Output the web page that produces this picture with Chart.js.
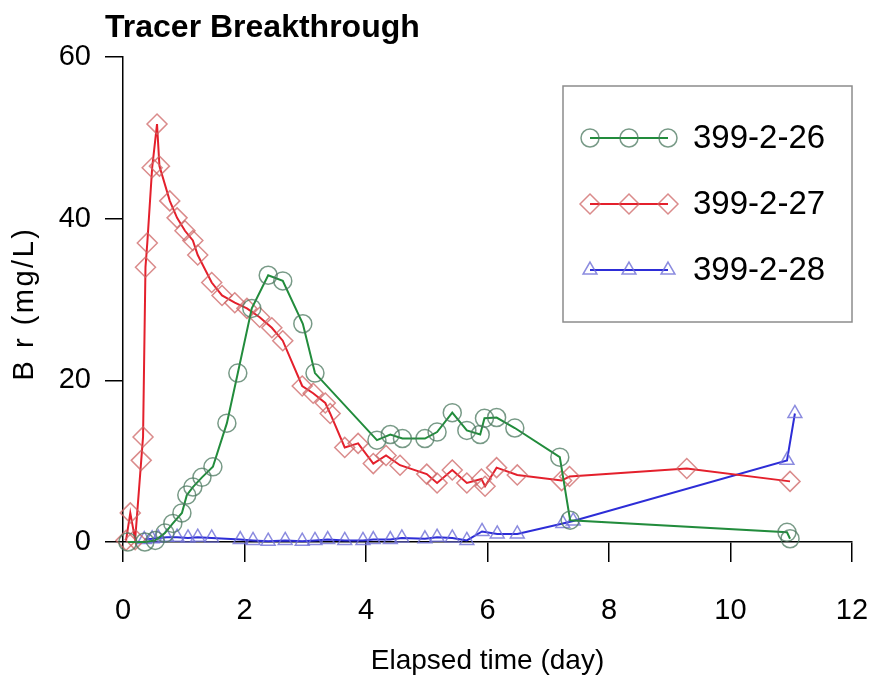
<!DOCTYPE html>
<html>
<head>
<meta charset="utf-8">
<script src="https://cdn.jsdelivr.net/npm/chart.js@4.4.1/dist/chart.umd.min.js"></script>
<style>
  html, body { margin: 0; padding: 0; background: #ffffff; }
  #wrap { position: relative; width: 885px; height: 684px; }
</style>
</head>
<body>
<div id="wrap"><canvas id="c" width="885" height="684"></canvas></div>
<script>
// ---- data ----
const seriesNames = ['399-2-26', '399-2-27', '399-2-28'];

const time26 = [0.08, 0.36, 0.53, 0.69, 0.82, 0.97, 1.05, 1.15, 1.30, 1.48, 1.71, 1.89, 2.12, 2.39, 2.63, 2.96, 3.16,
                4.18, 4.40, 4.60, 4.97, 5.17, 5.42, 5.66, 5.88, 5.95, 6.15, 6.45, 7.19, 7.36, 10.93, 10.98];
const br26   = [0.0, 0.0, 0.2, 1.1, 2.3, 3.6, 5.8, 6.8, 8.0, 9.3, 14.7, 20.9, 28.9, 33.0, 32.3, 27.0, 20.9,
                12.6, 13.3, 12.8, 12.8, 13.6, 16.0, 13.8, 13.3, 15.3, 15.4, 14.1, 10.5, 2.7, 1.2, 0.4];

const time27 = [0.05, 0.12, 0.20, 0.30, 0.33, 0.37, 0.40, 0.48, 0.56, 0.60, 0.77, 0.89, 1.02, 1.15, 1.23, 1.46, 1.63,
                1.84, 2.04, 2.25, 2.45, 2.63, 2.95, 3.13, 3.33, 3.41, 3.65, 3.87, 4.12, 4.33, 4.56, 5.00, 5.17,
                5.42, 5.66, 5.90, 5.96, 6.15, 6.49, 7.22, 7.35, 9.28, 10.98];
const br27   = [0.2, 3.6, 0.3, 10.1, 13.0, 34.0, 37.0, 46.3, 51.7, 46.5, 42.2, 40.1, 38.5, 37.3, 35.5, 32.1, 30.5,
                29.6, 28.9, 27.8, 26.5, 24.9, 19.3, 18.4, 17.2, 15.9, 11.7, 12.2, 9.7, 10.7, 9.5, 8.4, 7.3,
                8.9, 7.3, 7.8, 6.9, 9.2, 8.3, 7.6, 8.1, 9.1, 7.5];

const time28 = [0.35, 0.48, 0.58, 0.72, 0.89, 1.07, 1.23, 1.46, 1.93, 2.14, 2.39, 2.67, 2.95, 3.16, 3.37, 3.65,
                3.95, 4.12, 4.40, 4.59, 4.97, 5.17, 5.42, 5.66, 5.91, 6.16, 6.49, 7.24, 7.41, 10.93, 11.06];
const br28   = [0.3, 0.4, 0.5, 0.6, 0.6, 0.5, 0.6, 0.5, 0.3, 0.2, 0.1, 0.2, 0.1, 0.2, 0.3, 0.2,
                0.2, 0.3, 0.3, 0.5, 0.4, 0.6, 0.5, 0.2, 1.3, 1.0, 1.0, 2.3, 2.6, 10.1, 15.9];

const xTicks = [0, 2, 4, 6, 8, 10, 12];
const yTicks = [0, 20, 40, 60];

const chartTitle = 'Tracer Breakthrough';
const xTitle = 'Elapsed time (day)';
const yTitle = 'B r (mg/L)';

// ---- build ----
function pts(xs, ys) { return xs.map((x, i) => ({ x: x, y: ys[i] })); }

const FONT = "'Liberation Sans', Arial, Helvetica, sans-serif";

const datasets = [
  {
    label: seriesNames[0], data: pts(time26, br26),
    borderColor: 'rgb(34,140,60)', borderWidth: 2,
    pointStyle: 'circle', pointRadius: 9, pointBorderWidth: 1.5,
    pointBorderColor: 'rgba(75,120,95,0.75)', pointBackgroundColor: 'rgba(0,0,0,0)'
  },
  {
    label: seriesNames[1], data: pts(time27, br27),
    borderColor: 'rgb(228,32,44)', borderWidth: 2,
    pointStyle: 'rectRot', pointRadius: 10, pointBorderWidth: 1.5,
    pointBorderColor: 'rgba(205,100,100,0.75)', pointBackgroundColor: 'rgba(0,0,0,0)'
  },
  {
    label: seriesNames[2], data: pts(time28, br28),
    borderColor: 'rgb(45,45,215)', borderWidth: 2,
    pointStyle: 'triangle', pointRadius: 8, pointBorderWidth: 1.5,
    pointBorderColor: 'rgba(110,110,215,0.8)', pointBackgroundColor: 'rgba(0,0,0,0)'
  }
];
datasets.forEach(d => { d.tension = 0; d.clip = false; d.fill = false; });

const titlePlugin = {
  id: 'topTitle',
  afterDraw(chart) {
    const ctx = chart.ctx;
    const ca = chart.chartArea;
    ctx.save();
    ctx.font = "bold 32px " + FONT;
    ctx.fillStyle = '#000';
    ctx.textBaseline = 'middle';
    ctx.textAlign = 'left';
    ctx.fillText(chartTitle, 105, 28);
    // y axis title (letter-spaced, rotated)
    ctx.translate(25, (ca.top + ca.bottom) / 2 + 4);
    ctx.rotate(-Math.PI / 2);
    ctx.font = "29px " + FONT;
    try { ctx.letterSpacing = '2.5px'; } catch (e) {}
    ctx.textAlign = 'center';
    ctx.fillText(yTitle, 0, 0);
    ctx.restore();
  }
};

const boxLegend = {
  id: 'boxLegend',
  afterDraw(chart) {
    const ctx = chart.ctx;
    const ca = chart.chartArea;
    const bx = 563, by = 86, bw = ca.right - 563, bh = 236;
    ctx.save();
    ctx.fillStyle = '#fff';
    ctx.fillRect(bx, by, bw, bh);
    ctx.strokeStyle = '#8c8c8c';
    ctx.lineWidth = 1.5;
    ctx.strokeRect(bx, by, bw, bh);
    chart.data.datasets.forEach((ds, i) => {
      const y = 138 + i * 66;
      const x0 = 590, x1 = 668;
      ctx.strokeStyle = ds.borderColor;
      ctx.lineWidth = 2;
      ctx.beginPath(); ctx.moveTo(x0, y); ctx.lineTo(x1, y); ctx.stroke();
      [x0, (x0 + x1) / 2, x1].forEach(px => {
        ctx.strokeStyle = ds.pointBorderColor;
        ctx.fillStyle = 'rgba(0,0,0,0)';
        ctx.lineWidth = ds.pointBorderWidth;
        Chart.helpers.drawPoint(ctx, { pointStyle: ds.pointStyle, radius: ds.pointRadius, rotation: 0, borderWidth: ds.pointBorderWidth }, px, y);
      });
      ctx.fillStyle = '#000';
      ctx.font = "33px " + FONT;
      ctx.textBaseline = 'middle';
      ctx.textAlign = 'left';
      ctx.fillText(ds.label, 693, y + 1);
    });
    ctx.restore();
  }
};

new Chart(document.getElementById('c'), {
  type: 'line',
  data: { datasets: datasets },
  plugins: [titlePlugin, boxLegend],
  options: {
    responsive: false,
    animation: false,
    devicePixelRatio: 1,
    layout: { padding: { left: 0, right: 33, top: 57, bottom: 0 } },
    plugins: { legend: { display: false }, title: { display: false }, tooltip: { enabled: false } },
    scales: {
      x: {
        type: 'linear', min: 0, max: 12,
        afterBuildTicks: s => { s.ticks = xTicks.map(v => ({ value: v })); },
        afterFit: s => { s.height = 142; s.paddingLeft = 0; s.paddingRight = 0; },
        border: { display: true, color: '#000', width: 1.5 },
        grid: { display: true, drawOnChartArea: false, drawTicks: true, tickLength: 20, color: '#000', lineWidth: 1.5 },
        ticks: { color: '#000', font: { family: FONT, size: 29 }, padding: 32, maxRotation: 0 },
        title: { display: true, text: xTitle, color: '#000', font: { family: FONT, size: 28 }, padding: { top: 0, bottom: 6 } }
      },
      y: {
        type: 'linear', min: 0, max: 60,
        afterBuildTicks: s => { s.ticks = yTicks.map(v => ({ value: v })); },
        afterFit: s => { s.width = 123; s.paddingTop = 0; s.paddingBottom = 0; },
        border: { display: true, color: '#000', width: 1.5 },
        grid: { display: true, drawOnChartArea: false, drawTicks: true, tickLength: 18, color: '#000', lineWidth: 1.5 },
        ticks: { color: '#000', font: { family: FONT, size: 29 }, padding: 14 },
        title: { display: false }
      }
    }
  }
});
</script>
</body>
</html>
